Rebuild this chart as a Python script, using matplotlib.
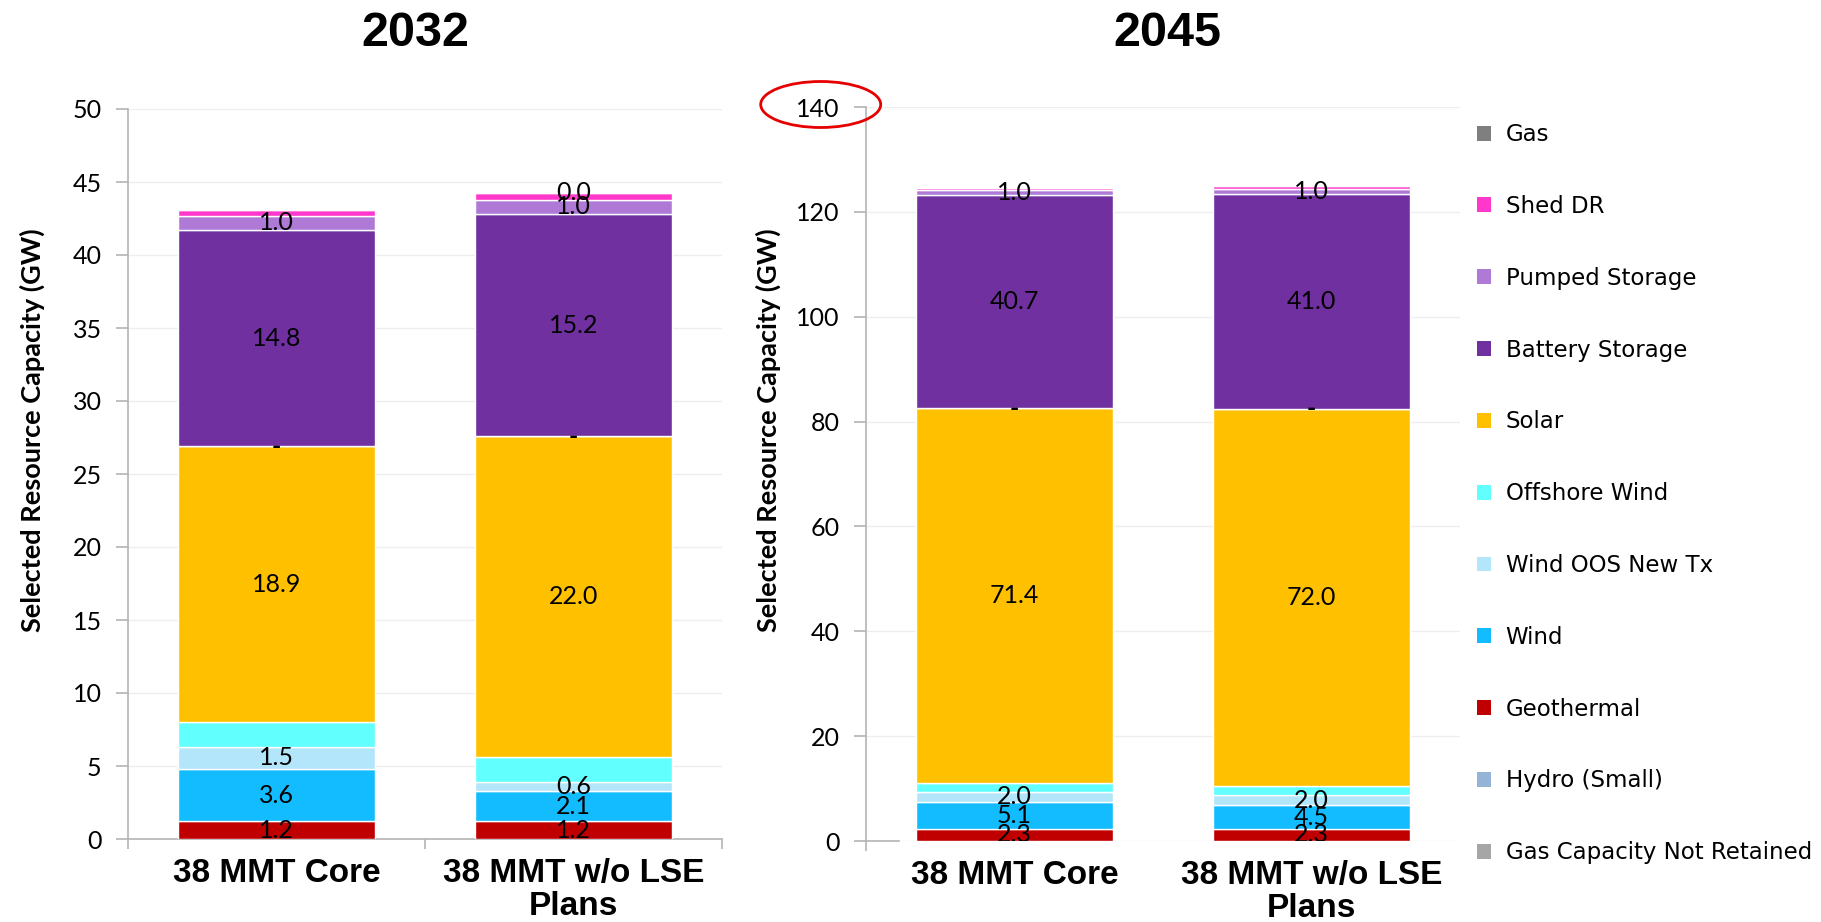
import matplotlib
matplotlib.use("Agg")
import matplotlib.pyplot as plt
from matplotlib.patches import Patch, Ellipse

# ---------------- data ----------------
scenarios = ["38 MMT Core", "38 MMT w/o LSE\nPlans"]

# series listed bottom-to-top of each stack
series_names = [
    "Gas Capacity Not Retained", "Hydro (Small)", "Geothermal", "Wind",
    "Wind OOS New Tx", "Offshore Wind", "Solar", None,
    "Battery Storage", "Pumped Storage", "Shed DR", "Gas",
]
series_colors = [
    "#a6a6a6", "#95b3d7", "#c00000", "#12bcff",
    "#b3e6fb", "#62ffff", "#ffc000", "#ffc000",
    "#7030a0", "#ae7ad6", "#ff37cb", "#7f7f7f",
]
# which series carry a value label ("gas" only when non-zero)
label_mode = ["none", "none", "all", "all",
              "all", "none", "all", "all",
              "all", "all", "none", "nonzero"]

gas_not_retained_2032 = [0.0, 0.0]
hydro_small_2032 = [0.0, 0.0]
geothermal_2032 = [1.2, 1.2]
wind_2032 = [3.6, 2.1]
wind_oos_2032 = [1.5, 0.6]
offshore_2032 = [1.7, 1.7]
solar_2032 = [18.9, 22.0]
unlisted_2032 = [0.0, 0.0]
battery_2032 = [14.8, 15.2]
pumped_2032 = [1.0, 1.0]
shed_dr_2032 = [0.35, 0.45]
gas_2032 = [0.0, 0.02]

gas_not_retained_2045 = [0.0, 0.0]
hydro_small_2045 = [0.0, 0.0]
geothermal_2045 = [2.3, 2.3]
wind_2045 = [5.1, 4.5]
wind_oos_2045 = [2.0, 2.0]
offshore_2045 = [1.7, 1.6]
solar_2045 = [71.4, 72.0]
unlisted_2045 = [0.0, 0.0]
battery_2045 = [40.7, 41.0]
pumped_2045 = [1.0, 1.0]
shed_dr_2045 = [0.4, 0.5]
gas_2045 = [0.0, 0.0]

values_2032 = [gas_not_retained_2032, hydro_small_2032, geothermal_2032, wind_2032,
               wind_oos_2032, offshore_2032, solar_2032, unlisted_2032,
               battery_2032, pumped_2032, shed_dr_2032, gas_2032]
values_2045 = [gas_not_retained_2045, hydro_small_2045, geothermal_2045, wind_2045,
               wind_oos_2045, offshore_2045, solar_2045, unlisted_2045,
               battery_2045, pumped_2045, shed_dr_2045, gas_2045]

yticks_2032 = [0, 5, 10, 15, 20, 25, 30, 35, 40, 45, 50]
yticks_2045 = [0, 20, 40, 60, 80, 100, 120, 140]

# ---------------- style ----------------
W, H = 1821, 922
fig = plt.figure(figsize=(W / 100, H / 100), dpi=100)
fig.patch.set_facecolor("white")

NUM_FONT = ["Lato", "DejaVu Sans"]
CAT_FONT = ["Liberation Sans", "DejaVu Sans"]
AXIS_GRAY = "#b4b4b4"
GRID_GRAY = "#eeeeee"


def fmt(v):
    return "-" if v == 0 else f"{v:.1f}"


def draw_panel(ax, values, ymax, yticks, full_xaxis):
    x = list(range(len(scenarios)))
    bottoms = [0.0] * len(x)
    for name, color, mode, vals in zip(series_names, series_colors, label_mode, values):
        ax.bar(x, vals, bottom=bottoms, width=0.665, color=color,
               edgecolor="white", linewidth=1.0, zorder=3)
        for i, v in enumerate(vals):
            show = mode == "all" or (mode == "nonzero" and v > 0)
            if show:
                ax.text(x[i], bottoms[i] + v / 2, fmt(v), ha="center", va="center",
                        fontsize=18, family=NUM_FONT, color="black",
                        fontweight="bold" if v == 0 else "normal",
                        zorder=5, clip_on=True)
        bottoms = [b + v for b, v in zip(bottoms, vals)]

    ax.set_xlim(-0.5, len(x) - 0.5)
    ax.set_ylim(0, ymax)
    ax.set_yticks(yticks)
    ax.set_yticklabels([str(t) for t in yticks], family=NUM_FONT, fontsize=18)
    ax.tick_params(axis="y", direction="out", length=9, width=1.2,
                   color=AXIS_GRAY, pad=10)
    ax.grid(axis="y", color=GRID_GRAY, linewidth=1.0, zorder=0)
    ax.set_axisbelow(True)

    ax.set_xticks(x)
    ax.set_xticklabels(scenarios, family=CAT_FONT, fontsize=24,
                       fontweight="bold", linespacing=1.05)
    ax.tick_params(axis="x", which="major", length=0, pad=14)
    if full_xaxis:
        ax.set_xticks([-0.5, 0.5, 1.5], minor=True)
    else:
        ax.set_xticks([-0.5], minor=True)
        ax.spines["bottom"].set_bounds(-0.5, -0.39)
    ax.tick_params(axis="x", which="minor", direction="out", length=7,
                   width=1.2, color=AXIS_GRAY)

    for side in ("top", "right"):
        ax.spines[side].set_visible(False)
    for side in ("left", "bottom"):
        ax.spines[side].set_color(AXIS_GRAY)
        ax.spines[side].set_linewidth(1.2)

    ax.set_ylabel("Selected Resource Capacity (GW)", family=NUM_FONT,
                  fontsize=19.5, fontweight="bold")


ax1 = fig.add_axes([128 / W, (H - 839) / H, 594 / W, 730 / H])
draw_panel(ax1, values_2032, 50, yticks_2032, True)
ax1.yaxis.set_label_coords((45 - 128) / 594, 0.56)

ax2 = fig.add_axes([866 / W, (H - 841) / H, 594 / W, 734 / H])
draw_panel(ax2, values_2045, 140, yticks_2045, False)
ax2.yaxis.set_label_coords((781 - 866) / 594, 0.56)

fig.text(415 / W, 1 - 46 / H, "2032", ha="center", va="baseline",
         family=CAT_FONT, fontsize=35, fontweight="bold")
fig.text(1167 / W, 1 - 46 / H, "2045", ha="center", va="baseline",
         family=CAT_FONT, fontsize=35, fontweight="bold")

# highlight ring around the top tick of the 2045 axis
fig.add_artist(Ellipse((820.7 / W, 1 - 104.5 / H), 120 / W, 46 / H,
                       transform=fig.transFigure, fill=False,
                       edgecolor="#e60000", linewidth=2.0))

# legend, top-to-bottom order
handles = [Patch(facecolor=c, edgecolor="none", label=n)
           for n, c in zip(series_names[::-1], series_colors[::-1]) if n is not None]
fig.legend(handles=handles, loc="upper left",
           bbox_to_anchor=(1468 / W, 1 - 114 / H), frameon=False,
           prop={"family": ["DejaVu Sans"], "size": 16.5},
           handlelength=0.62, handleheight=0.62, handletextpad=0.62,
           labelspacing=2.13, borderaxespad=0)

fig.savefig("out.png", dpi=100, facecolor="white")
